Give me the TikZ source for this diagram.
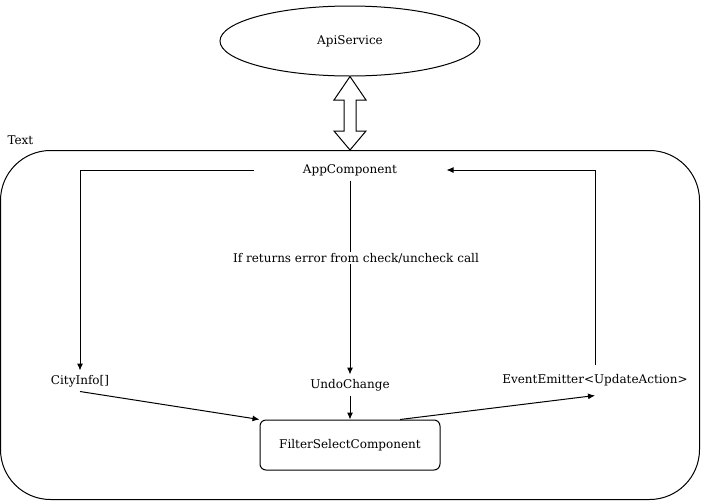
\documentclass[tikz,border=0pt]{standalone}
\usepackage{fontspec}
\setmainfont{DejaVu Serif}
\usetikzlibrary{shapes.geometric,positioning,arrows.meta}
\tikzset{
  lbl/.style={inner sep=0pt,minimum height=20pt},
  comp/.style={draw,rounded corners=6pt,minimum width=180pt,minimum height=50pt},
}
\begin{document}
\begin{tikzpicture}[>={Latex[length=7pt,width=6pt]},x=1pt,y=-1pt,line width=1pt,font=\fontsize{12}{14}\selectfont]
      \useasboundingbox (0,0) rectangle (701,501);
      \node[draw,ellipse,minimum width=260pt,minimum height=70pt] (api) at (350,41) {ApiService};
      \node[draw,rounded corners=50pt,minimum width=699pt,minimum height=349pt] (frame) at (350,325) {};
      \node[anchor=west,inner sep=0pt] (title) at (7,140) {Text};
      \draw (api.south) -- (366,100) -- (356,100) -- (356,131) -- (366,131) -- (frame.north)
            -- (334,131) -- (344,131) -- (344,100) -- (334,100) -- cycle;

      \node[lbl,minimum width=192pt] (app) at (350,170) {AppComponent};
      \node[lbl] (city) at (80,381) {CityInfo[]};
      \node[lbl] (undo) at (350,385) {UndoChange};
      \node[lbl,minimum height=30pt] (emit) at (595,380) {EventEmitter<UpdateAction>};
      \node[comp] (filter) at (350,445) {FilterSelectComponent};

      \draw[->] (app.west) -| (city.north);
      \draw[->] (app.south) -- node[pos=0.4,xshift=6pt,fill=white,inner sep=1pt] (err) {If returns error from check/uncheck call} (undo.north);
      \draw[->] (undo.south) -- (filter.north);
      \draw[->] (city.south) -- (filter.north west);
      \draw[->] (filter.north) ++(50,0) coordinate (out) (out) -- (emit.south);
      \draw[->] (emit.north) |- (app.east);
    \end{tikzpicture}
\end{document}
